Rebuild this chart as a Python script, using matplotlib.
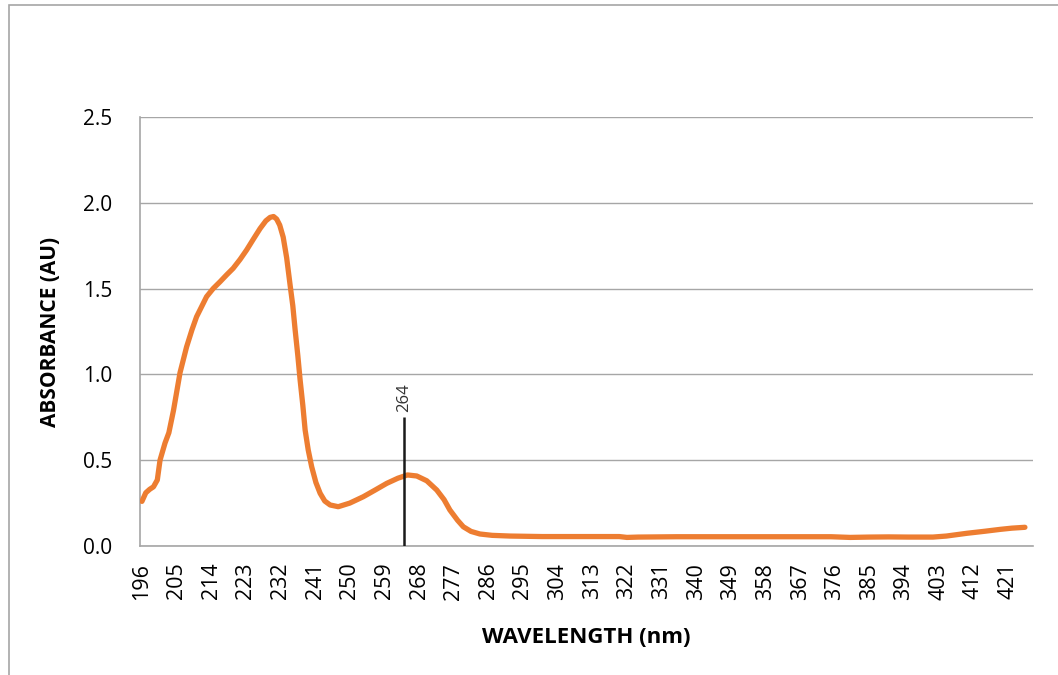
import matplotlib
matplotlib.use("Agg")
import matplotlib.pyplot as plt
from matplotlib.patches import Rectangle

# ---- data ----
wavelength = [196, 197, 198, 199, 200, 200.7, 202, 203, 204.2, 205.9, 207.6, 209, 210.2,
              212.8, 214.5, 216.3, 218, 219.7, 221.5, 223.2, 225, 226.7, 228.2, 229.3, 230.2,
              231, 231.8, 232.7, 233.6, 234.5, 235.2, 235.8, 236.5, 237.1, 237.8, 238.4,
              239.2, 240.1, 241.2, 242.3, 243.5, 244.9, 247, 250, 253.5, 256.5, 259.6,
              262.5, 265, 267.4, 270, 272.6, 274.5, 276, 278, 279.5, 281.5, 283.8, 287,
              291.6, 300, 310, 320, 322, 325, 335, 345, 355, 365, 375, 380, 385, 390,
              395, 401.5, 405, 410.3, 415, 419, 422, 425.4]
absorbance = [0.26, 0.31, 0.33, 0.345, 0.385, 0.50, 0.60, 0.66, 0.79, 1.01, 1.16, 1.26, 1.336,
              1.453, 1.50, 1.54, 1.58, 1.618, 1.67, 1.725, 1.79, 1.85, 1.895, 1.915, 1.92,
              1.905, 1.87, 1.80, 1.68, 1.52, 1.40, 1.26, 1.11, 0.967, 0.82, 0.676,
              0.56, 0.462, 0.37, 0.307, 0.262, 0.239, 0.229, 0.25, 0.287, 0.325, 0.365,
              0.395, 0.414, 0.408, 0.38, 0.326, 0.27, 0.21, 0.15, 0.112, 0.085, 0.07, 0.062,
              0.058, 0.055, 0.055, 0.055, 0.05, 0.052, 0.054, 0.054, 0.054, 0.054, 0.054, 0.05,
              0.052, 0.053, 0.052, 0.052, 0.058, 0.074, 0.086, 0.097, 0.104, 0.109]
x_ticks = [196, 205, 214, 223, 232, 241, 250, 259, 268, 277, 286, 295, 304, 313, 322,
           331, 340, 349, 358, 367, 376, 385, 394, 403, 412, 421]
y_ticks = [0.0, 0.5, 1.0, 1.5, 2.0, 2.5]
y_tick_labels = ["0.0", "0.5", "1.0", "1.5", "2.0", "2.5"]
peak_wl = 264
peak_line_top = 0.75

plt.rcParams['font.family'] = ['Open Sans', 'DejaVu Sans']

fig = plt.figure(figsize=(10.58, 6.75), dpi=100)
fig.patches.append(Rectangle((9 / 1058, -0.1), 1.2, (675 - 5) / 675 + 0.1,
                             transform=fig.transFigure, fill=False,
                             edgecolor="#A6A6A6", linewidth=1.2))
ax = fig.add_axes([140 / 1058, (675 - 546) / 675, (1033 - 140) / 1058, (546 - 117) / 675])

ax.plot(wavelength, absorbance, color="#ED7D31", linewidth=3.8,
        solid_capstyle="round", solid_joinstyle="round", zorder=3)
ax.vlines(peak_wl, 0, peak_line_top, color="#1a1a1a", linewidth=1.8, zorder=4)
ax.text(peak_wl, peak_line_top + 0.03, str(peak_wl), rotation=90, ha="center",
        va="bottom", fontsize=12, color="#333333")

ax.set_xlim(195.5, 427.5)
ax.set_ylim(0, 2.5)
ax.set_xticks(x_ticks)
ax.set_xticklabels([str(t) for t in x_ticks], rotation=90, fontsize=15.5)
ax.set_yticks(y_ticks)
ax.set_yticklabels(y_tick_labels, fontsize=15)
ax.tick_params(axis="x", length=0, pad=12)
ax.tick_params(axis="y", length=0, pad=20)
ax.grid(axis="y", color="#A6A6A6", linewidth=1.0)
ax.set_axisbelow(True)
for s in ["top", "right"]:
    ax.spines[s].set_visible(False)
for s in ["left", "bottom"]:
    ax.spines[s].set_color("#A6A6A6")
    ax.spines[s].set_linewidth(1.2)

ax.set_xlabel("WAVELENGTH (nm)", fontsize=16, fontweight="bold", labelpad=20)
ax.set_ylabel("ABSORBANCE (AU)", fontsize=15, fontweight="bold", labelpad=16)

fig.savefig("out.png", dpi=100)
